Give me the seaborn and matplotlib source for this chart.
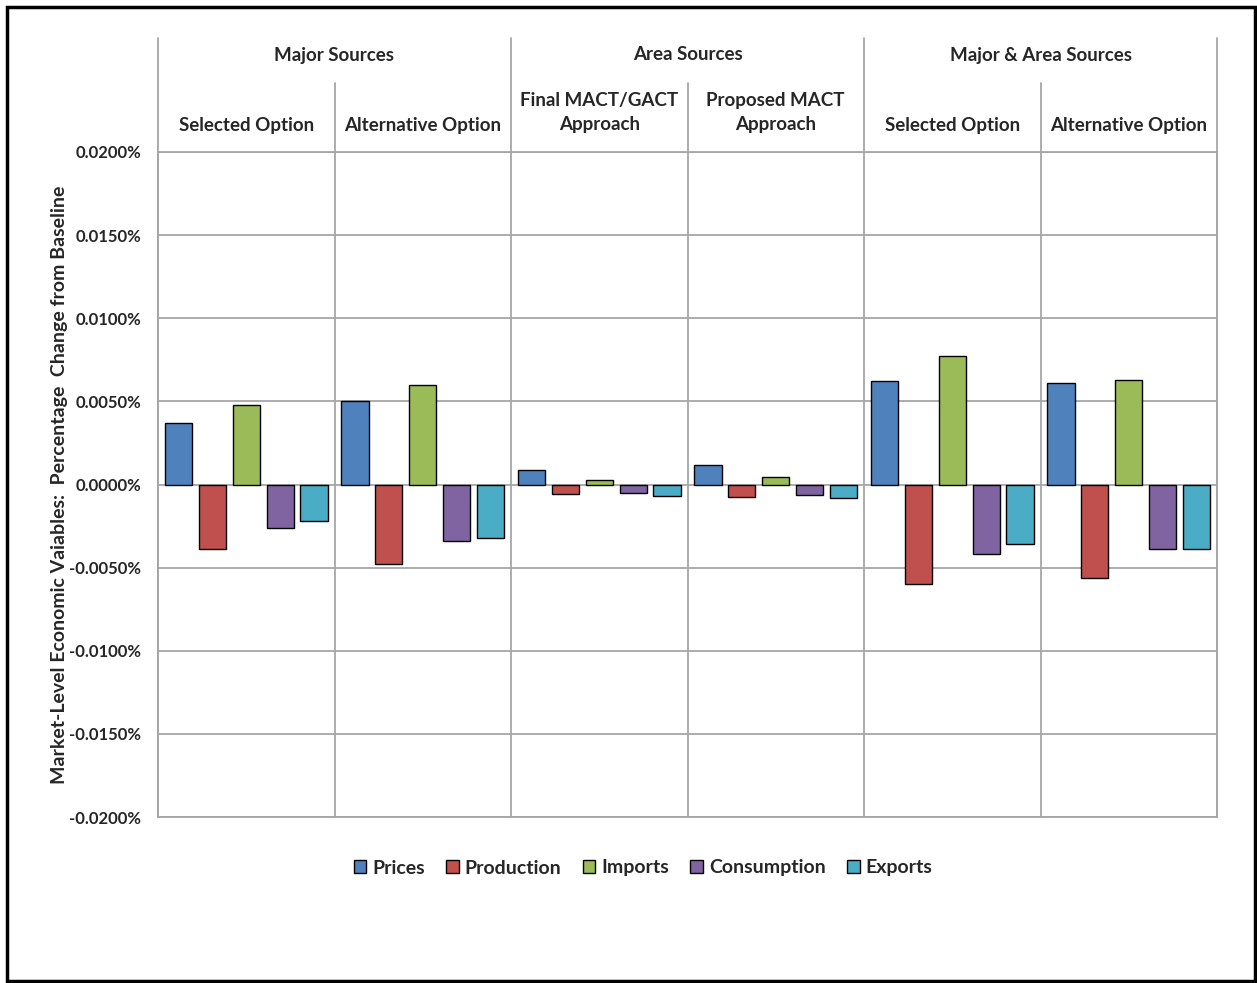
import pandas as pd
import seaborn as sns
import matplotlib.pyplot as plt
from matplotlib.patches import Rectangle
from matplotlib.transforms import blended_transform_factory

# --- data (percent change from baseline) ---
groups = ["Major Selected", "Major Alternative", "Area Final", "Area Proposed",
          "Both Selected", "Both Alternative"]
series = ["Prices", "Production", "Imports", "Consumption", "Exports"]
prices = [0.0037, 0.0050, 0.0009, 0.0012, 0.0062, 0.0061]
production = [-0.0039, -0.0048, -0.0006, -0.00075, -0.0060, -0.0056]
imports = [0.0048, 0.0060, 0.0003, 0.00045, 0.0077, 0.0063]
consumption = [-0.0026, -0.0034, -0.0005, -0.00065, -0.0042, -0.0039]
exports = [-0.0022, -0.0032, -0.0007, -0.0008, -0.0036, -0.0039]

top_labels = ["Major Sources", "Area Sources", "Major & Area Sources"]
sub_labels = ["Selected Option", "Alternative Option", "Final MACT/GACT\nApproach",
              "Proposed MACT\nApproach", "Selected Option", "Alternative Option"]
y_ticks = [-0.02, -0.015, -0.01, -0.005, 0.0, 0.005, 0.01, 0.015, 0.02]
colors = ["#4F81BD", "#C0504D", "#9BBB59", "#8064A2", "#4BACC6"]

rows = []
for name, vals in zip(series, [prices, production, imports, consumption, exports]):
    for g, v in zip(groups, vals):
        rows.append({"group": g, "series": name, "value": v})
df = pd.DataFrame(rows)

sns.set_theme(style="white")
plt.rcParams['font.family'] = ['Lato', 'DejaVu Sans']
plt.rcParams['font.weight'] = 'bold'

W, H = 1257, 983
fig = plt.figure(figsize=(W / 100, H / 100), dpi=100)
ax = fig.add_axes([158 / W, 1 - 817 / H, (1217 - 158) / W, (817 - 152) / H])

sns.barplot(data=df, x="group", y="value", hue="series", order=groups,
            hue_order=series, palette=colors, width=0.96, gap=0.2,
            edgecolor="black", linewidth=1.0, saturation=1, ax=ax, legend=True)

grid_c = "#A6A6A6"
hdr = 13.5
ax.set_xlim(-0.5, 5.5)
ax.set_ylim(-0.02, 0.02)
ax.set_yticks(y_ticks)
ax.set_yticklabels([f"{t:.4f}%" for t in y_ticks], fontsize=12, fontweight="bold")
ax.tick_params(axis="y", length=0, pad=12)
ax.set_xticks([])
ax.set_xlabel("")
ax.set_ylabel("Market-Level Economic Vaiables:  Percentage  Change from Baseline",
              fontsize=14, fontweight="bold")
ax.yaxis.set_label_coords(-0.085, 0.5)
for t in y_ticks:
    ax.axhline(t, color=grid_c, lw=1.3, zorder=0)
for s in ax.spines.values():
    s.set_color(grid_c)
    s.set_linewidth(1.3)

# vertical separators inside plot and header
tr = blended_transform_factory(ax.transData, ax.transAxes)
top_main = (817 - 38) / 665
top_sub = (817 - 83) / 665
for x in [-0.5, 1.5, 3.5, 5.5]:
    ax.plot([x, x], [0, top_main], color=grid_c, lw=1.3, transform=tr, clip_on=False)
for x in [0.5, 2.5, 4.5]:
    ax.plot([x, x], [0, top_sub], color=grid_c, lw=1.3, transform=tr, clip_on=False)

trf = blended_transform_factory(ax.transData, fig.transFigure)
for i, lab in enumerate(top_labels):
    ax.text(2 * i + 0.5, 1 - 55 / H, lab, transform=trf, ha="center", va="center",
            fontsize=hdr, fontweight="bold")
for i, lab in enumerate(sub_labels):
    y = 1 - 112.5 / H if "\n" in lab else 1 - 125 / H
    ax.text(i, y, lab, transform=trf, ha="center", va="center",
            fontsize=hdr, fontweight="bold", linespacing=1.45)

handles, labels = ax.get_legend_handles_labels()
ax.get_legend().remove()
fig.legend(handles, labels, loc="center", bbox_to_anchor=(643 / W, 1 - 868 / H),
           ncol=5, frameon=False, handlelength=0.65, handleheight=0.65,
           handletextpad=0.3, columnspacing=1.1,
           prop={"size": 14, "weight": "bold"})

fig.patches.append(Rectangle((7 / W, 2 / H), 1248 / W, 974 / H, transform=fig.transFigure,
                             fill=False, edgecolor="black", lw=2.5))

fig.savefig("out.png", dpi=100)
